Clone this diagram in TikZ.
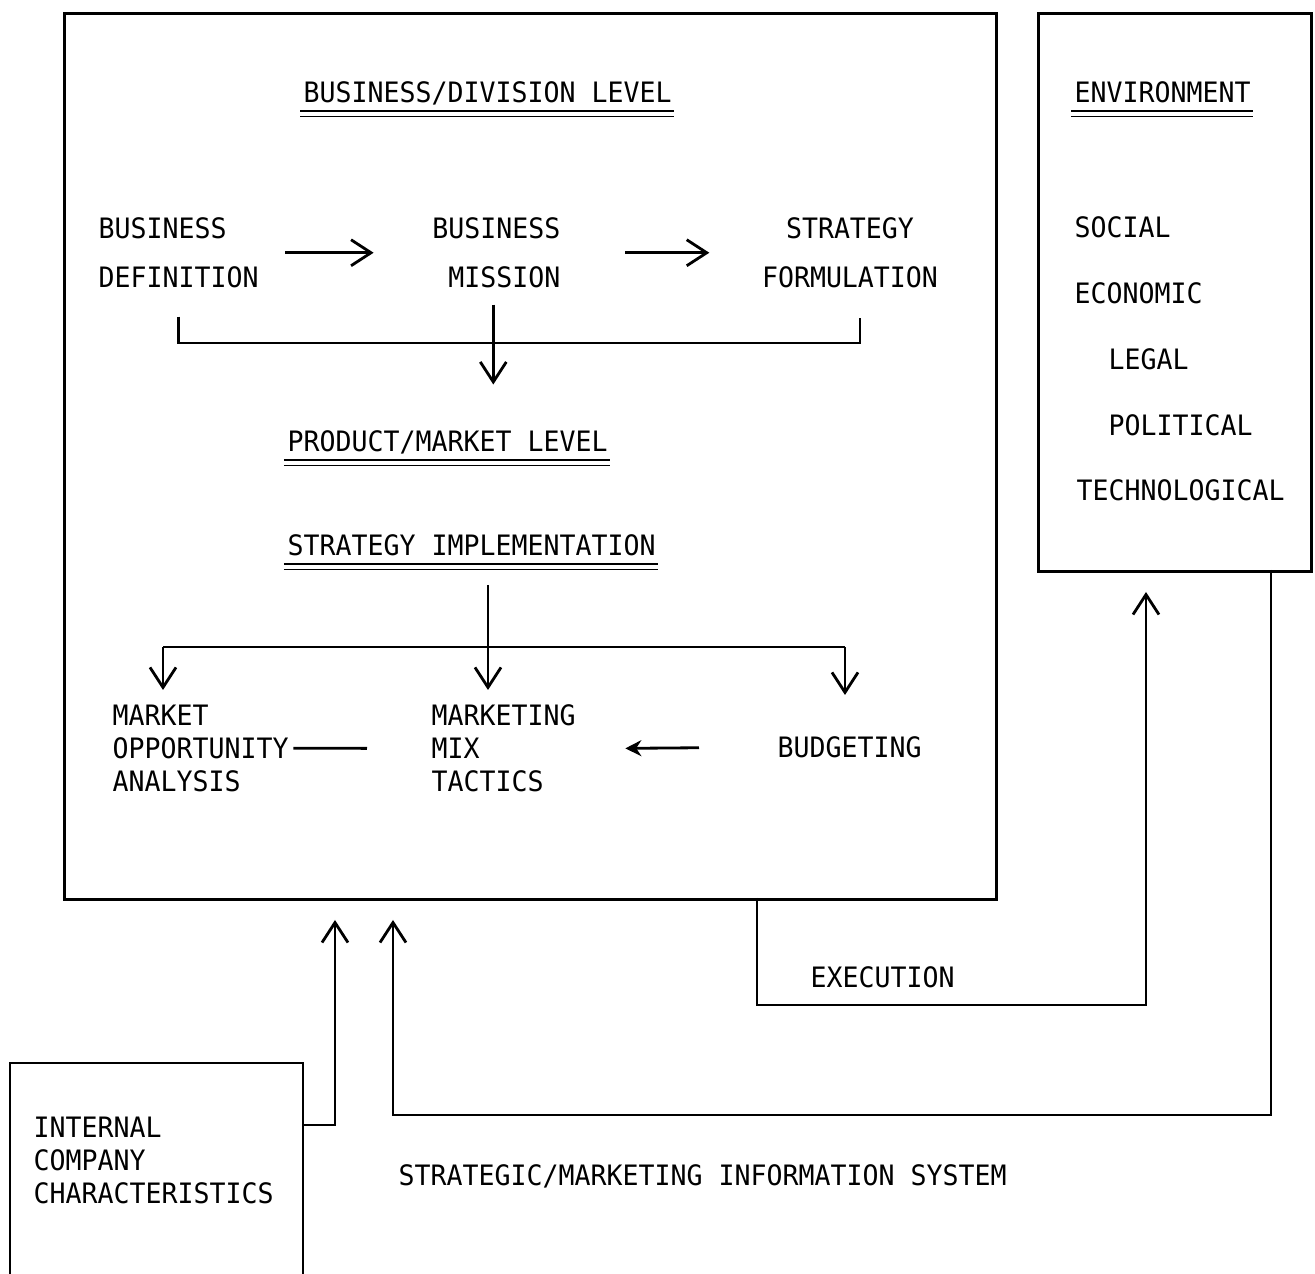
\documentclass[tikz,border=0pt]{standalone}
\usepackage{fontspec}
\newfontfamily\typefont[FakeStretch=0.945]{DejaVu Sans Mono}
\usetikzlibrary{arrows.meta, calc}

\tikzset{
    txt/.style={inner sep=0pt, font=\typefont\fontsize{8}{9.4}\selectfont},
    widetxt/.style={inner sep=0pt, font=\typefont\fontsize{8}{13.9}\selectfont},
    box/.style={draw, line width=0.75pt, inner sep=0pt, anchor=north west},
    conn/.style={line width=0.8pt},
    arr/.style={conn, -{Straight Barb[length=2mm, width=2.6mm]}},
    sarr/.style={conn, -{Stealth[length=1.6mm, width=1.6mm]}}
}

\begin{document}
\begin{tikzpicture}
        \useasboundingbox (0,0) rectangle (13.15,-12.74);

        % boxes
        \node[box, minimum width=9.32cm, minimum height=8.86cm] (planbox) at (0.63,-0.12) {};
        \node[box, minimum width=2.73cm, minimum height=5.58cm] (envbox) at (10.37,-0.12) {};
        \draw[line width=0.75pt] (0.10,-12.74) |- (3.03,-10.63) -- (3.03,-12.74);

        % business/division level
        \node[txt, anchor=base west] (bizlevel) at (3.03,-1.03) {BUSINESS/DIVISION LEVEL};
        \node[widetxt, align=left, anchor=north west] (bizdef) at (0.98,-2.17) {BUSINESS\\DEFINITION};
        \node[widetxt, align=right, anchor=north east] (mission) at (5.61,-2.17) {BUSINESS\\MISSION};
        \node[widetxt, align=center, anchor=north] (stratform) at (8.50,-2.17) {STRATEGY\\FORMULATION};

        \draw[arr] ([xshift=2.6mm]bizdef.east) -- ([xshift=-5.8mm]mission.west);
        \draw[arr] ([xshift=6.4mm]mission.east) -- ([xshift=-5.2mm]stratform.west);

        \coordinate (bracketmid) at (4.93,-3.43);
        \draw[conn] ([yshift=-2.8mm]bizdef.south) |- (bracketmid) -| ([xshift=1mm, yshift=-2.9mm]stratform.south);
        \draw[arr] ([xshift=-0.3mm, yshift=-1.6mm]mission.south) -- ++(0,-0.8);

        % product/market level
        \node[txt, anchor=base west] (pmlevel) at (2.87,-4.52) {PRODUCT/MARKET LEVEL};
        \node[txt, anchor=base west] (implev) at (2.87,-5.56) {STRATEGY IMPLEMENTATION};

        \coordinate (implout) at (4.88,-5.85);
        \coordinate (splitl) at (1.63,-6.47);
        \coordinate (splitr) at (8.45,-6.47);
        \draw[arr] (implout) -- ++(0,-1.05);
        \draw[conn] (splitl) -- (splitr);
        \draw[arr] (splitl) -- ++(0,-0.43);
        \draw[arr] (splitr) -- ++(0,-0.48);

        \node[txt, align=left, anchor=north west] (market) at (1.12,-7.04) {MARKET\\OPPORTUNITY\\ANALYSIS};
        \node[txt, align=left, anchor=north west] (mix) at (4.31,-7.04) {MARKETING\\MIX\\TACTICS};
        \node[txt, anchor=base west] (budget) at (7.77,-7.58) {BUDGETING};

        \draw[conn] ([xshift=0.4mm]market.east) -- ([xshift=-6.4mm]mix.west);
        \draw[sarr] ([xshift=-7.8mm]budget.west) -- ([xshift=4.9mm]mix.east);

        % environment
        \node[txt, anchor=base west] (envhead) at (10.74,-1.03) {ENVIRONMENT};
        \node[txt, anchor=base west] (social) at (10.74,-2.38) {SOCIAL};
        \node[txt, anchor=base west] (economic) at (10.74,-3.04) {ECONOMIC};
        \node[txt, anchor=base west] (legal) at (11.08,-3.70) {LEGAL};
        \node[txt, anchor=base west] (political) at (11.08,-4.36) {POLITICAL};
        \node[txt, anchor=base west] (technological) at (10.76,-5.01) {TECHNOLOGICAL};

        % double underlines
        \foreach \h in {bizlevel, pmlevel, implev, envhead} {
            \draw[line width=0.5pt] ($(\h.base west)+(-0.03,-0.08)$) -- ($(\h.base east)+(0.02,-0.08)$);
            \draw[line width=0.5pt] ($(\h.base west)+(-0.03,-0.135)$) -- ($(\h.base east)+(0.02,-0.135)$);
        }

        % execution loop
        \coordinate (execout) at (7.57,-8.98);
        \coordinate (envin) at (11.46,-5.92);
        \draw[arr] (execout) -- ++(0,-1.07) -| (envin);
        \node[txt, anchor=base west] (execution) at (8.10,-9.88) {EXECUTION};

        % information feedback
        \coordinate (envout) at (12.71,-5.70);
        \coordinate (infoin) at (3.93,-9.20);
        \draw[arr] (envout) -- ++(0,-5.45) -| (infoin);

        \coordinate (intout) at (3.03,-11.25);
        \coordinate (intin) at (3.35,-9.20);
        \draw[arr] (intout) -| (intin);

        \node[txt, align=left, anchor=north west] (internal) at (0.33,-11.16) {INTERNAL\\COMPANY\\CHARACTERISTICS};
        \node[txt, anchor=base west] (infosys) at (3.98,-11.86) {STRATEGIC/MARKETING INFORMATION SYSTEM};

    \end{tikzpicture}
\end{document}
